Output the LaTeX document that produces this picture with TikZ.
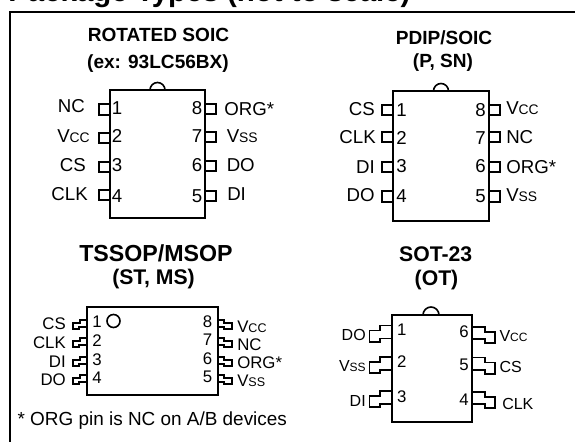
\documentclass[tikz,border=0pt]{standalone}
\usepackage{fontspec}
\setmainfont{Liberation Sans}
\tikzset{x=0.75pt,y=-0.75pt,
 frameline/.style={line width=1.6pt,black},
 body/.style={line width=1.3pt,black},
 pin/.style={line width=1.2pt,black},
 ttl/.style={font=\bfseries\fontsize{14.3}{17}\selectfont,inner sep=0pt,anchor=base},
 bigttl/.style={font=\bfseries\fontsize{17.4}{20}\selectfont,inner sep=0pt,anchor=base},
 midttl/.style={font=\bfseries\fontsize{15.9}{19}\selectfont,inner sep=0pt,anchor=base},
 lab/.style={font=\fontsize{14}{16}\selectfont,inner sep=0pt,anchor=base},
 labr/.style={lab,anchor=base east},
 labl/.style={lab,anchor=base west},
 tlab/.style={font=\fontsize{12.6}{15}\selectfont,inner sep=0pt,anchor=base},
 tlabr/.style={tlab,anchor=base east},
 tlabl/.style={tlab,anchor=base west},
 slab/.style={font=\fontsize{12}{14}\selectfont,inner sep=0pt,anchor=base},
 slabr/.style={slab,anchor=base east},
 slabl/.style={slab,anchor=base west}}
\newcommand{\vsub}[3]{#1{\fontsize{#3}{10}\selectfont #2}}
\begin{document}
\begin{tikzpicture}
\path[use as bounding box] (0,0) rectangle (575,442);
\clip (0,0) rectangle (575,442);
\node[font=\bfseries\fontsize{22.1}{26}\selectfont,inner sep=0pt,anchor=base west] (title) at (8,2) {Package Types (not to scale)};
\draw[frameline] (575,12) -- (10,12) -- (10,442);
% ROTATED SOIC
\node[ttl] (t1a) at (158.5,41.5) {ROTATED SOIC};
\node[ttl] (t1b) at (158,68.5) {(ex: 93LC56BX)};
\draw[body] (110,90) rectangle (205,218);
\draw[pin] (157.5-7.5,90) arc[start angle=180,end angle=360,radius=7.5];
\foreach \a/\b/\n/\ny in {104/115/1/115,133/143/2/143,162/172/3/172,190/200/4/203}{
 \draw[pin] (110,\a) -- (99,\a) -- (99,\b) -- (110,\b);
 \node[lab] at (117,\ny) {\n};
}
\foreach \a/\b/\n/\ny in {104/114/8/115,132/142/7/143,161/171/6/172,191/201/5/203}{
 \draw[pin] (205,\a) -- (216,\a) -- (216,\b) -- (205,\b);
 \node[lab] at (197,\ny) {\n};
}
\node[labr] (a1) at (85,113) {NC};
\node[labr] (a2) at (90,143) {\vsub{V}{CC}{10.4}};
\node[labr] (a3) at (86,172) {CS};
\node[labr] (a4) at (88,201) {CLK};
\node[labl] (a8) at (224,115.5) {ORG*};
\node[labl] (a7) at (226.5,143) {\vsub{V}{SS}{10.4}};
\node[labl] (a6) at (226.5,172) {DO};
\node[labl] (a5) at (227,201) {DI};
% PDIP
\node[ttl] (t2a) at (444,45) {PDIP/SOIC};
\node[ttl] (t2b) at (443,68) {(P, SN)};
\draw[body] (393,91) rectangle (489,221);
\draw[pin] (441-7.5,91) arc[start angle=180,end angle=360,radius=7.5];
\foreach \a/\b/\n/\ny in {105/115/1/116.5,132/142/2/145,162/172/3/173,191/202/4/203}{
 \draw[pin] (393,\a) -- (382,\a) -- (382,\b) -- (393,\b);
 \node[lab] at (401.5,\ny) {\n};
}
\foreach \a/\b/\n/\ny in {105/115/8/116.5,132/142/7/145,162/172/6/173,191/202/5/203}{
 \draw[pin] (489,\a) -- (500,\a) -- (500,\b) -- (489,\b);
 \node[lab] at (480.5,\ny) {\n};
}
\node[labr] (b1) at (375,115.5) {CS};
\node[labr] (b2) at (376,144) {CLK};
\node[labr] (b3) at (375,174) {DI};
\node[labr] (b4) at (375,202) {DO};
\node[labl] (b8) at (506,115) {\vsub{V}{CC}{10.4}};
\node[labl] (b7) at (506,144) {NC};
\node[labl] (b6) at (506,174) {ORG*};
\node[labl] (b5) at (506,202) {\vsub{V}{SS}{10.4}};
% TSSOP
\node[bigttl] (t3a) at (156,262) {TSSOP/MSOP};
\node[midttl] (t3b) at (153.5,284) {(ST, MS)};
\draw[body] (87,307) rectangle (218,395);
\draw[pin] (113.5,321) circle[radius=6.5];
\foreach \y/\n/\ny in {320/1/327,338/2/346,357/3/365,375/4/383}{
 \draw[pin] (87,\y) -- (80,\y) -- (80,\y+3) -- (73,\y+3) -- (73,\y+9) -- (79,\y+9) -- (79,\y+7) -- (87,\y+7);
 \node[tlab] at (97,\ny) {\n};
}
\foreach \y/\n/\ny in {320/8/327,338/7/345,357/6/364,375/5/382}{
 \draw[pin] (218,\y) -- (224,\y) -- (224,\y+3) -- (232,\y+3) -- (232,\y+9) -- (224,\y+9) -- (224,\y+7) -- (218,\y+7);
 \node[tlab] at (207.5,\ny) {\n};
}
\node[tlabr] (c1) at (66,329) {CS};
\node[tlabr] (c2) at (66,348) {CLK};
\node[tlabr] (c3) at (66,367) {DI};
\node[tlabr] (c4) at (66,385) {DO};
\node[tlabl] (c8) at (237,332) {\vsub{V}{CC}{9.4}};
\node[tlabl] (c7) at (237,350) {NC};
\node[tlabl] (c6) at (237,368) {ORG*};
\node[tlabl] (c5) at (237,386) {\vsub{V}{SS}{9.4}};
\node[font=\fontsize{14.2}{17}\selectfont,inner sep=0pt,anchor=base west] (note) at (17.3,425) {* ORG pin is NC on A/B devices};
% SOT
\node[midttl] (t4a) at (435.7,261.5) {SOT-23};
\node[midttl] (t4b) at (436.5,285) {(OT)};
\draw[body] (392,315) rectangle (472,422);
\draw[pin] (431-8,315) arc[start angle=180,end angle=360,radius=8];
\foreach \y/\n/\ny in {325.5/1/335.7,356.7/2/367,390.7/3/402}{
 \draw[pin] (392,\y) -- (380,\y) -- (380,\y+5) -- (369.5,\y+5) -- (369.5,\y+16.5) -- (380,\y+16.5) -- (380,\y+13) -- (392,\y+13);
 \node[tlab] at (401.7,\ny) {\n};
}
\foreach \y/\n/\ny in {326.7/6/337,357.3/5/370.7,391.7/4/405}{
 \draw[pin] (472,\y) -- (485,\y) -- (485,\y+5) -- (495,\y+5) -- (495,\y+16.5) -- (485,\y+16.5) -- (485,\y+12.5) -- (472,\y+12.5);
 \node[tlab] at (464,\ny) {\n};
}
\node[slabr] (d1) at (366,340) {DO};
\node[slabr] (d2) at (366,371.7) {\vsub{V}{SS}{9}};
\node[slabr] (d3) at (366,406) {DI};
\node[slabl] (d6) at (499.3,341) {\vsub{V}{CC}{9}};
\node[slabl] (d5) at (499.3,372.7) {CS};
\node[slabl] (d4) at (502,409) {CLK};
\end{tikzpicture}
\end{document}
